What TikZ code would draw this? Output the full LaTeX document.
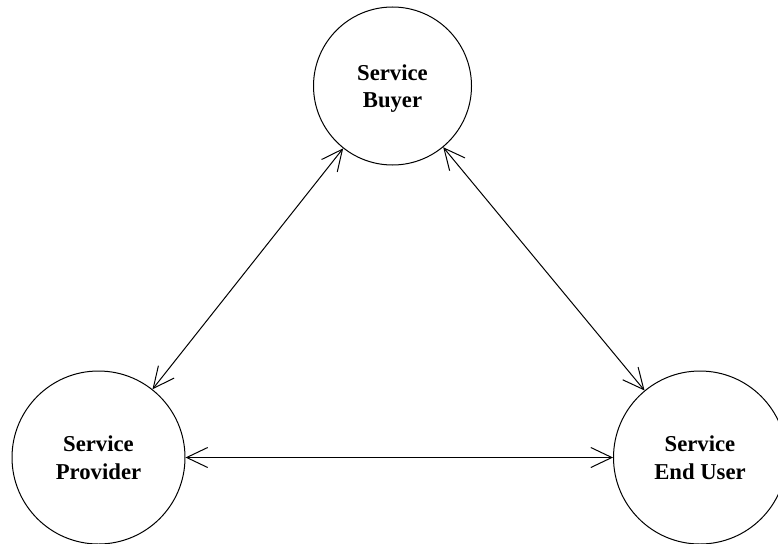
\documentclass[tikz,border=0pt]{standalone}
\usepackage{fontspec}
\setmainfont{Liberation Serif}
\usetikzlibrary{arrows.meta}
\begin{document}
\begin{tikzpicture}[x=1pt,y=-1pt,
  party/.style={draw,circle,line width=1pt,inner sep=0pt,align=center,
    text depth=0pt,font=\fontsize{22.7}{27.5}\selectfont\bfseries},
  link/.style={line width=1pt,
    {Straight Barb[length=21pt,width=20pt,line width=1pt]}-{Straight Barb[length=21pt,width=20pt,line width=1pt]}}]
  \useasboundingbox (0,0) rectangle (778,543);
  % the three parties of the service relationship
  \node[party,minimum size=158pt] (buyer) at (392.5,86) {Service\\Buyer};
  \node[party,minimum size=173pt] (provider) at (98.5,457.5) {Service\\Provider};
  \node[party,minimum size=173pt] (enduser) at (700,457.5) {Service\\End User};
  % two-way relations between them
  \draw[link] (provider) -- (buyer);
  \draw[link] (buyer) -- (enduser);
  \draw[link] (provider) -- (enduser);
\end{tikzpicture}
\end{document}
